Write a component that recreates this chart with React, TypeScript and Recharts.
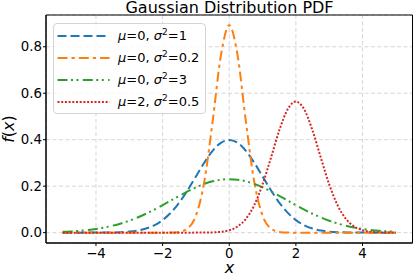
import { LineChart, Line, XAxis, YAxis, CartesianGrid, ReferenceArea, Legend } from "recharts";

// x grid shared by all curves
const xValues = [
  -5, -4.75, -4.5, -4.25, -4, -3.75, -3.5, -3.25, -3, -2.75, -2.5, -2.25, -2, -1.75, -1.5, -1.25, -1, -0.75, -0.5, -0.25,
  0, 0.25, 0.5, 0.75, 1, 1.25, 1.5, 1.75, 2, 2.25, 2.5, 2.75, 3, 3.25, 3.5, 3.75, 4, 4.25, 4.5, 4.75, 5,
];

// mu=0, var=1
const pdfStd = [
  0, 0, 0, 0.0001, 0.0001, 0.0004, 0.0009, 0.002, 0.0044, 0.0091, 0.0175, 0.0317, 0.054, 0.0863, 0.1295, 0.1826, 0.242, 0.3011, 0.3521, 0.3867,
  0.3989, 0.3867, 0.3521, 0.3011, 0.242, 0.1826, 0.1295, 0.0863, 0.054, 0.0317, 0.0175, 0.0091, 0.0044, 0.002, 0.0009, 0.0004, 0.0001, 0.0001, 0, 0, 0,
];

// mu=0, var=0.2
const pdfNarrow = [
  0, 0, 0, 0, 0, 0, 0, 0, 0, 0, 0, 0, 0, 0.0004, 0.0032, 0.0179, 0.0732, 0.2187, 0.4775, 0.763,
  0.8921, 0.763, 0.4775, 0.2187, 0.0732, 0.0179, 0.0032, 0.0004, 0, 0, 0, 0, 0, 0, 0, 0, 0, 0, 0, 0, 0,
];

// mu=0, var=3
const pdfWide = [
  0.0036, 0.0054, 0.0079, 0.0114, 0.016, 0.0221, 0.0299, 0.0396, 0.0514, 0.0653, 0.0813, 0.0991, 0.1182, 0.1383, 0.1583, 0.1775, 0.195, 0.2097, 0.2209, 0.2279,
  0.2303, 0.2279, 0.2209, 0.2097, 0.195, 0.1775, 0.1583, 0.1383, 0.1182, 0.0991, 0.0813, 0.0653, 0.0514, 0.0396, 0.0299, 0.0221, 0.016, 0.0114, 0.0079, 0.0054, 0.0036,
];

// mu=2, var=0.5
const pdfShifted = [
  0, 0, 0, 0, 0, 0, 0, 0, 0, 0, 0, 0, 0, 0, 0, 0, 0.0001, 0.0003, 0.0011, 0.0036,
  0.0103, 0.0264, 0.0595, 0.1182, 0.2076, 0.3215, 0.4394, 0.53, 0.5642, 0.53, 0.4394, 0.3215, 0.2076, 0.1182, 0.0595, 0.0264, 0.0103, 0.0036, 0.0011, 0.0003, 0.0001,
];

const xTicks = [-4, -2, 0, 2, 4];
const yTicks = [0, 0.2, 0.4, 0.6, 0.8];
const legendMu = ["0", "0", "0", "2"];
const legendVar = ["1", "0.2", "3", "0.5"];

const X_DOMAIN: [number, number] = [-5.5, 5.5];
const Y_DOMAIN: [number, number] = [-0.0446, 0.9367];

const series = [
  { key: "std", color: "#1f77b4", dash: "9 4" },
  { key: "narrow", color: "#ff7f0e", dash: "10 4 3.3 4" },
  { key: "wide", color: "#2ca02c", dash: "10 3.5 2 3.5 2 4.3" },
  { key: "shifted", color: "#d62728", dash: "2 1.7" },
];

const data = xValues.map((x, i) => ({
  x,
  std: pdfStd[i],
  narrow: pdfNarrow[i],
  wide: pdfWide[i],
  shifted: pdfShifted[i],
}));

const FONT = "DejaVu Sans, sans-serif";
const tickStyle = { fill: "#000", fontSize: 13.3, fontFamily: FONT };

const fmtX = (v: number) => (v < 0 ? "\u2212" + Math.abs(v) : String(v));

function LegendBox() {
  return (
    <div
      style={{
        width: 153,
        boxSizing: "border-box",
        border: "1px solid #d4d4d4",
        borderRadius: 4,
        background: "rgba(255,255,255,0.8)",
        padding: "1px 0 0 0",
        fontFamily: FONT,
        fontSize: 13,
        color: "#000",
      }}
    >
      {series.map((s, i) => (
        <div key={s.key} style={{ height: 22, display: "flex", alignItems: "center" }}>
          <svg width={64} height={22} style={{ flex: "none" }}>
            <line x1={3.5} x2={55.5} y1={11} y2={11} stroke={s.color} strokeWidth={2} strokeDasharray={s.dash} />
          </svg>
          <span style={{ whiteSpace: "nowrap" }}>
            <i>μ</i>={legendMu[i]}, <i>σ</i>
            <sup style={{ fontSize: 9, verticalAlign: "5px", lineHeight: 0 }}>2</sup>={legendVar[i]}
          </span>
        </div>
      ))}
    </div>
  );
}

export default function App() {
  return (
    <div style={{ position: "absolute", left: 0, top: 0, width: 415, height: 277, background: "#fff" }}>
      <LineChart width={415} height={277} data={data} margin={{ top: 15, right: 2.5, bottom: 0, left: 0 }}>
        <CartesianGrid stroke="#cccccc" strokeDasharray="4 2.5" strokeWidth={0.8} />
        <XAxis
          type="number"
          dataKey="x"
          domain={X_DOMAIN}
          ticks={xTicks}
          tickFormatter={fmtX}
          height={34}
          tick={tickStyle}
          tickSize={3}
          tickMargin={3}
          stroke="#000"
        />
        <YAxis
          type="number"
          domain={Y_DOMAIN}
          ticks={yTicks}
          tickFormatter={(v: number) => v.toFixed(1)}
          width={46}
          tick={tickStyle}
          tickSize={3}
          tickMargin={1}
          stroke="#000"
        />
        {series.map((s) => (
          <Line
            key={s.key}
            type="monotone"
            dataKey={s.key}
            stroke={s.color}
            strokeWidth={2}
            strokeDasharray={s.dash}
            dot={false}
            activeDot={false}
            isAnimationActive={false}
          />
        ))}
        <ReferenceArea x1={X_DOMAIN[0]} x2={X_DOMAIN[1]} y1={Y_DOMAIN[0]} y2={Y_DOMAIN[1]} fill="none" stroke="#000" strokeWidth={1} />
        <Legend
          layout="vertical"
          align="center"
          verticalAlign="middle"
          content={<LegendBox />}
          wrapperStyle={{ left: 53, top: 22.5, width: 153 }}
        />
      </LineChart>
      <svg width={415} height={277} style={{ position: "absolute", left: 0, top: 0, pointerEvents: "none" }}>
        <text x={229.5} y={12.5} textAnchor="middle" fontFamily={FONT} fontSize={16}>
          Gaussian Distribution PDF
        </text>
        <text x={229.5} y={273} textAnchor="middle" fontFamily={FONT} fontSize={16} fontStyle="italic">
          x
        </text>
        <text transform="translate(14,129) rotate(-90)" textAnchor="middle" fontFamily={FONT} fontSize={16}>
          <tspan fontStyle="italic">f</tspan>(<tspan fontStyle="italic">x</tspan>)
        </text>
      </svg>
    </div>
  );
}
